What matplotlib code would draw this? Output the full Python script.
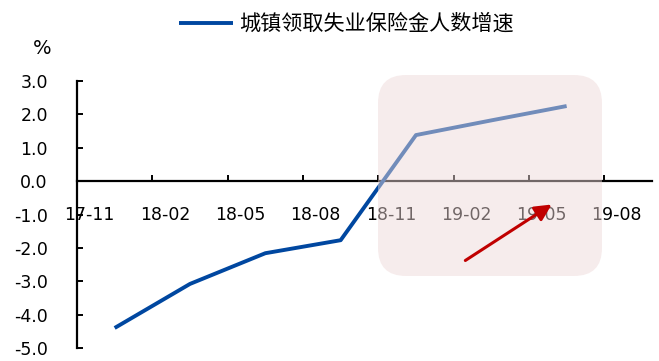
import numpy as np
import pandas as pd
import matplotlib
matplotlib.use('Agg')
import matplotlib.pyplot as plt
from matplotlib.patches import FancyBboxPatch, FancyArrowPatch
from matplotlib.transforms import IdentityTransform

plt.rcParams['font.family'] = ['DejaVu Sans', 'Noto Sans CJK SC']
plt.rcParams['axes.unicode_minus'] = False

# quarterly values (%)
dates = ['2017-12', '2018-03', '2018-06', '2018-09', '2018-12', '2019-03', '2019-06']
growth = [-4.40, -3.08, -2.16, -1.77, 1.38, 1.82, 2.25]
tick_labels = ['17-11', '18-02', '18-05', '18-08', '18-11', '19-02', '19-05', '19-08']
series_name = '城镇领取失业保险金人数增速'

line_color = '#0047a0'

# months since 2017-11, points sit mid-month
start = pd.Period('2017-11', freq='M')
x = np.array([(pd.Period(d, freq='M') - start).n + 0.5 for d in dates])
tick_pos = np.arange(len(tick_labels)) * 3

fig = plt.figure(figsize=(6.59, 3.61), dpi=100)
ax = fig.add_axes([77 / 659, 13 / 361, 575 / 659, 267 / 361])

ax.plot(x, growth, color=line_color, lw=2.8, label=series_name,
        solid_capstyle='butt', zorder=3)

ax.set_xlim(0, 22.9)
ax.set_ylim(-5, 3)

for s in ['top', 'right']:
    ax.spines[s].set_visible(False)
ax.spines['bottom'].set_position(('data', 0))
ax.spines['left'].set_linewidth(1.6)
ax.spines['bottom'].set_linewidth(1.6)

ax.set_yticks(np.arange(-5, 3.1, 1))
ax.set_yticklabels(['%.1f' % v for v in np.arange(-5, 3.1, 1)])
ax.tick_params(axis='y', direction='in', length=4, width=1.4, pad=21,
               labelsize=12.5)

# major ticks without labels, labels sit a bit to the right (minor ticks)
ax.set_xticks(tick_pos)
ax.set_xticklabels([])
ax.set_xticks(tick_pos + 0.5, minor=True)
ax.set_xticklabels(tick_labels, minor=True)
ax.tick_params(axis='x', which='major', direction='in', length=4, width=1.4)
ax.tick_params(axis='x', which='minor', length=0, pad=18, labelsize=12.5)

fig.text(42 / 659, 1 - 48 / 361, '%', ha='center', va='center', fontsize=14)

fig.legend(loc='center', bbox_to_anchor=(346 / 659, 1 - 24 / 361),
           frameon=False, prop={'family': 'Noto Sans CJK SC', 'size': 15.2},
           handlelength=2.6, handletextpad=0.25,
           borderpad=0, borderaxespad=0)

# highlighted region
box = FancyBboxPatch((378, 361 - 276), 224, 201,
                     boxstyle='round,pad=0,rounding_size=28',
                     transform=IdentityTransform(), facecolor=(238 / 255, 216 / 255, 216 / 255),
                     edgecolor='none', alpha=0.48, zorder=5)
fig.add_artist(box)

arrow = FancyArrowPatch((463, 361 - 262), (554, 361 - 203),
                        transform=IdentityTransform(),
                        arrowstyle='-|>,head_length=0.9,head_width=0.45',
                        mutation_scale=11, color='#c00000', lw=2.2, zorder=6)
fig.add_artist(arrow)

fig.savefig('out.png', dpi=100)
